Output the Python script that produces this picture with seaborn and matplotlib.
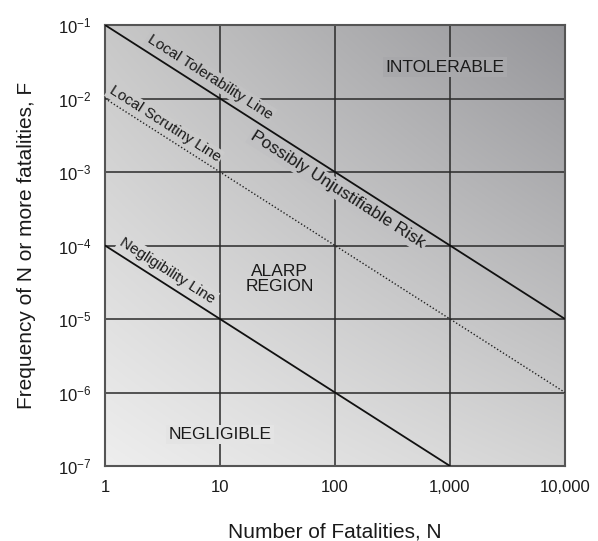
import numpy as np
import matplotlib
matplotlib.use("Agg")
import matplotlib.pyplot as plt
import seaborn as sns

# criterion lines (F-N diagram)
tol_N = [1, 10000]
tol_F = [1e-1, 1e-5]
scr_N = [1, 10000]
scr_F = [1e-2, 1e-6]
neg_N = [1, 1000]
neg_F = [1e-4, 1e-7]

x_ticks = [1, 10, 100, 1000, 10000]
x_labels = ["1", "10", "100", "1,000", "10,000"]
y_ticks = [1e-7, 1e-6, 1e-5, 1e-4, 1e-3, 1e-2, 1e-1]
y_labels = [r"$\mathregular{10^{%d}}$" % e for e in range(-7, 0)]


def shade(u, v):
    # grey level of the background at axes coords (u, v)
    g = 238 - 26 * u - 38 * v - 24 * u * v
    b = g + 4 * u * v
    return np.stack([g, g, b], axis=-1) / 255.0


def main():
    sns.set_style("white")
    plt.rcParams['font.family'] = ['Liberation Sans', 'DejaVu Sans']
    plt.rcParams['mathtext.fontset'] = 'custom'
    plt.rcParams['mathtext.rm'] = 'Liberation Sans'

    fig = plt.figure(figsize=(5.98, 5.41), dpi=100)
    pos = [105 / 598, 1 - 466 / 541, 460 / 598, 441 / 541]

    # background gradient
    bg = fig.add_axes(pos, zorder=0)
    uu, vv = np.meshgrid(np.linspace(0, 1, 300), np.linspace(0, 1, 300))
    bg.imshow(shade(uu, vv), origin="lower", extent=(0, 1, 0, 1), aspect="auto")
    bg.axis("off")

    ax = fig.add_axes(pos, zorder=1)
    ax.set_facecolor("none")
    ax.set_xscale("log")
    ax.set_yscale("log")
    ax.set_xlim(1, 10000)
    ax.set_ylim(1e-7, 1e-1)

    for t in x_ticks[1:-1]:
        ax.axvline(t, color="#2a2a2a", lw=1.1, zorder=1)
    for t in y_ticks[1:-1]:
        ax.axhline(t, color="#2a2a2a", lw=1.1, zorder=1)

    sns.lineplot(x=tol_N, y=tol_F, ax=ax, color="#111111", lw=1.3, zorder=4)
    sns.lineplot(x=scr_N, y=scr_F, ax=ax, color="#222222", lw=1.0, zorder=4,
                 linestyle=(0, (1, 1.5)))
    sns.lineplot(x=neg_N, y=neg_F, ax=ax, color="#111111", lw=1.3, zorder=4)

    ax.set_xticks(x_ticks)
    ax.set_xticklabels(x_labels)
    ax.set_yticks(y_ticks)
    ax.set_yticklabels(y_labels)
    ax.minorticks_off()
    ax.tick_params(length=0, labelsize=12, pad=10, colors="#1a1a1a")
    for s in ax.spines.values():
        s.set_color("#555555")
        s.set_linewidth(1.5)

    ax.set_xlabel("Number of Fatalities, N", fontsize=15, color="#1a1a1a")
    ax.set_ylabel("Frequency of N or more fatalities, F", fontsize=15, color="#1a1a1a")
    ax.xaxis.set_label_coords(0.5, -0.128)
    ax.yaxis.set_label_coords(-0.15, 0.5)

    # slope angle of the criterion lines on screen
    fig.canvas.draw()
    p0 = ax.transData.transform((1, 1e-1))
    p1 = ax.transData.transform((10000, 1e-5))
    ang = np.degrees(np.arctan2(p1[1] - p0[1], p1[0] - p0[0]))

    def label(x, y, s, size, rot=0, box=True, **kw):
        u, v = ax.transAxes.inverted().transform(ax.transData.transform((x, y)))
        bb = dict(boxstyle="square,pad=0.12", fc=shade(u, v), ec="none") if box else None
        ax.text(x, y, s, fontsize=size, rotation=rot, rotation_mode="anchor",
                ha="center", va="center", color="#1a1a1a", bbox=bb, zorder=3, **kw)

    label(905, 0.0268, "INTOLERABLE", 12.5)
    label(33, 3.5e-5, "ALARP\nREGION", 12.5, box=False, linespacing=1.0)
    label(10, 2.7e-7, "NEGLIGIBLE", 12.5)
    label(8.2, 0.0196, "Local Tolerability Line", 11, rot=ang)
    label(3.3, 4.5e-3, "Local Scrutiny Line", 11, rot=ang)
    label(3.5, 4.6e-5, "Negligibility Line", 11, rot=ang)
    label(106, 5.7e-4, "Possibly Unjustifiable Risk", 12.5, rot=ang)

    fig.savefig("out.png", dpi=100)


if __name__ == "__main__":
    main()
